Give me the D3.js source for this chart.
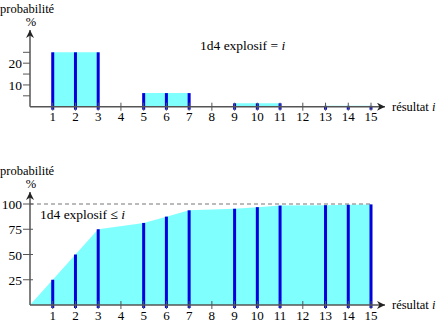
<!DOCTYPE html>
<html>
<head>
<meta charset="utf-8">
<script src="https://cdn.jsdelivr.net/npm/d3@7"></script>
<style>
  body { margin: 0; background: #fff; }
  text { font-family: "Liberation Serif", "DejaVu Serif", serif; fill: #000; }
</style>
</head>
<body>
<div id="chart-area"></div>
<script>
// data
var results = [1, 2, 3, 5, 6, 7, 9, 10, 11, 13, 14, 15];
var probs = [25, 25, 25, 6.25, 6.25, 6.25, 1.5625, 1.5625, 1.5625, 0.39, 0.39, 0.39];
var cumul = [25, 50, 75, 81.25, 87.5, 93.75, 95.31, 96.88, 98.44, 98.83, 99.22, 99.61];
var xTicks = d3.range(1, 16);
var yTicksTop = [5, 10, 15, 20, 25];
var yLabelsTop = [10, 20];
var yTicksBot = [25, 50, 75, 100];

var svg = d3.select("#chart-area").append("svg")
    .attr("width", 440)
    .attr("height", 322);

svg.append("defs").append("marker")
    .attr("id", "arr")
    .attr("viewBox", "0 0 10 10")
    .attr("refX", 10).attr("refY", 5)
    .attr("markerWidth", 12).attr("markerHeight", 8)
    .attr("markerUnits", "userSpaceOnUse")
    .attr("orient", "auto")
  .append("path").attr("d", "M0,0L10,5L0,10L3,5Z").attr("fill", "#222");

var x = d3.scaleLinear().domain([0, 15]).range([30, 371]);
var axisCol = "#555";

function panel(opt) {
    var y = d3.scaleLinear().domain(opt.dom).range(opt.range);
    var g = svg.append("g");
    var base = y(0);

    // fill
    g.append("path")
        .datum(opt.area)
        .attr("fill", "#80ffff")
        .attr("d", d3.line().x(d => x(d[0])).y(d => y(d[1])));

    if (opt.dash) {
        g.append("line")
            .attr("x1", x(0)).attr("x2", x(15))
            .attr("y1", y(100)).attr("y2", y(100))
            .attr("stroke", "#777").attr("stroke-dasharray", "4,3");
    }

    // bars
    g.selectAll(".bar").data(results.map((r, i) => [r, opt.vals[i]]))
      .enter().append("line")
        .attr("x1", d => x(d[0])).attr("x2", d => x(d[0]))
        .attr("y1", base + 3).attr("y2", d => y(d[1]))
        .attr("stroke", "#0000dd").attr("stroke-width", 3);

    // x axis
    g.append("line")
        .attr("x1", x(0)).attr("x2", 385)
        .attr("y1", base).attr("y2", base)
        .attr("stroke", axisCol).attr("stroke-width", 1.5)
        .attr("marker-end", "url(#arr)");
    g.selectAll(".xt").data(xTicks).enter().append("line")
        .attr("x1", d => x(d)).attr("x2", d => x(d))
        .attr("y1", base - 4).attr("y2", base + 4)
        .attr("stroke", axisCol);
    g.selectAll(".xl").data(xTicks).enter().append("text")
        .attr("x", d => x(d)).attr("y", base + 14.5)
        .attr("text-anchor", "middle").attr("font-size", 13)
        .text(d => d);
    g.append("text").attr("x", 392).attr("y", base + 4)
        .attr("font-size", 12.5)
        .html("résultat <tspan font-style='italic'>i</tspan>");

    // y axis
    g.append("line")
        .attr("x1", x(0)).attr("x2", x(0))
        .attr("y1", base).attr("y2", opt.top)
        .attr("stroke", axisCol).attr("stroke-width", 1.5)
        .attr("marker-end", "url(#arr)");
    g.selectAll(".yt").data(opt.yticks).enter().append("line")
        .attr("x1", x(0) - 7).attr("x2", x(0) + opt.tickRight)
        .attr("y1", d => y(d)).attr("y2", d => y(d))
        .attr("stroke", axisCol);
    g.selectAll(".yl").data(opt.ylabels).enter().append("text")
        .attr("x", 22).attr("y", d => y(d) + 5)
        .attr("text-anchor", "end").attr("font-size", 13.5)
        .text(d => d);
    g.append("text").attr("x", 31).attr("y", opt.top - 4)
        .attr("text-anchor", "middle").attr("font-size", 12.5).text("%");
    g.append("text").attr("x", 0).attr("y", opt.top - 17)
        .attr("font-size", 12.5).text("probabilité");

    g.append("text").attr("x", opt.lx).attr("y", opt.ly)
        .attr("font-size", 13.5)
        .html(opt.label + " <tspan font-style='italic'>i</tspan>");
}

// top: step fill per group of three
var areaTop = [];
for (var k = 0; k < results.length; k += 3) {
    areaTop.push([results[k], 0], [results[k], probs[k]],
                 [results[k + 2], probs[k + 2]], [results[k + 2], 0]);
}
panel({
    dom: [0, 25], range: [106.7, 52.3], top: 30,
    vals: probs, area: areaTop,
    yticks: yTicksTop, ylabels: yLabelsTop, tickRight: 0,
    label: "1d4 explosif =", lx: 200, ly: 50
});

// bottom: cumulative polygon
var areaBot = [[0, 0]].concat(results.map((r, i) => [r, cumul[i]]), [[15, 0]]);
panel({
    dom: [0, 100], range: [305, 204], top: 192,
    vals: cumul, area: areaBot, dash: true,
    yticks: yTicksBot, ylabels: yTicksBot, tickRight: 3,
    label: "1d4 explosif ≤", lx: 40, ly: 219
});
</script>
</body>
</html>
